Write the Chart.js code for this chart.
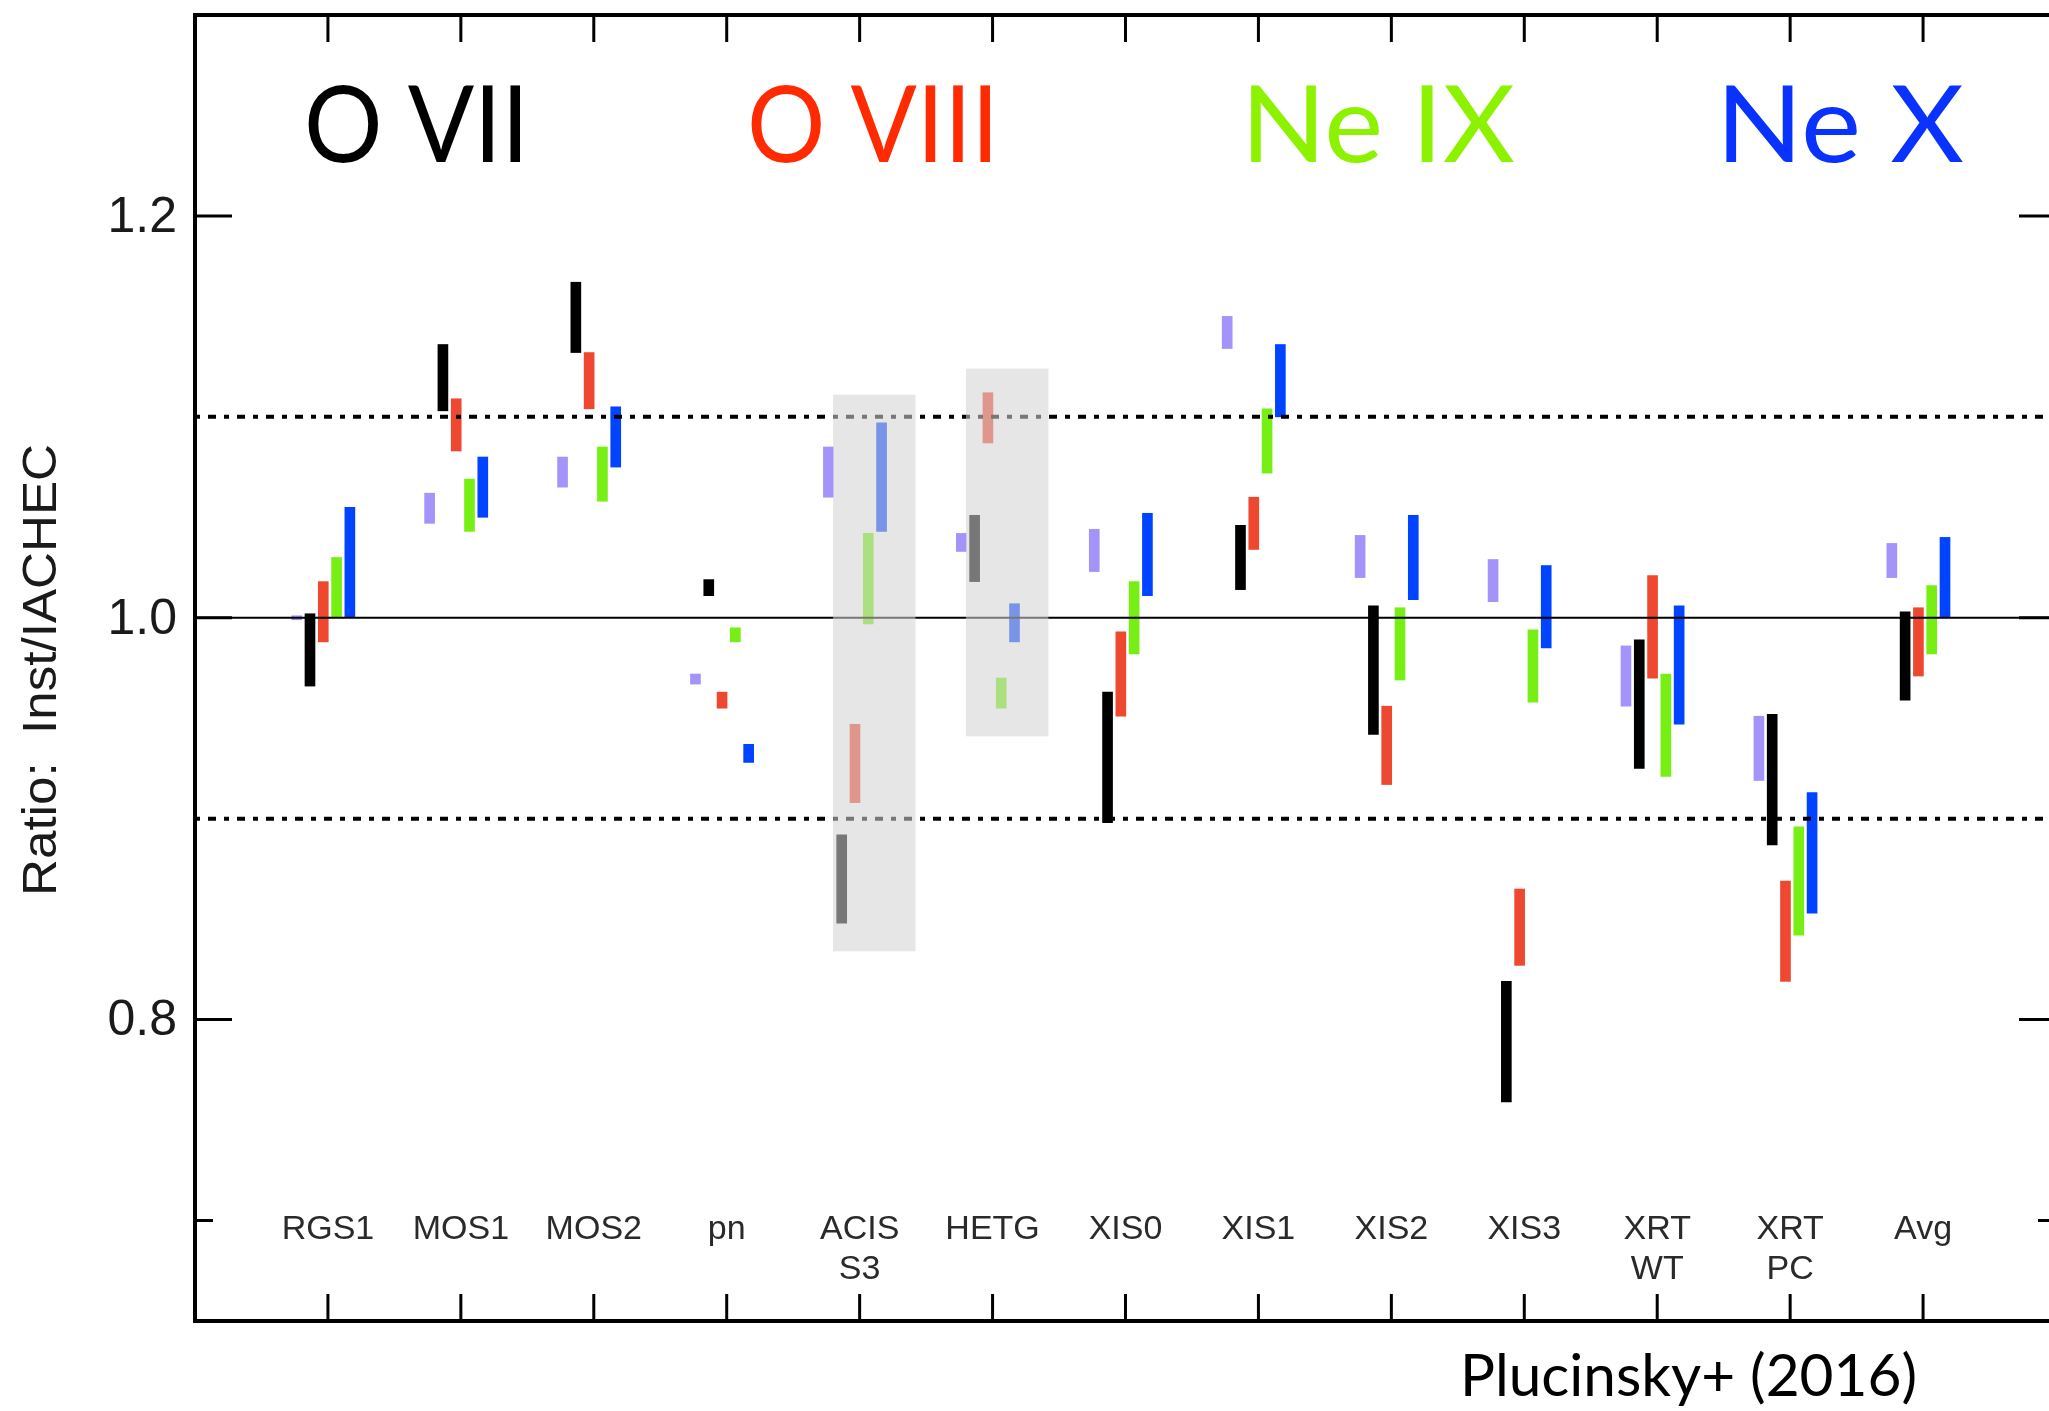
<!DOCTYPE html>
<html>
<head>
<meta charset="utf-8">
<script src="https://cdn.jsdelivr.net/npm/chart.js@4.4.1/dist/chart.umd.min.js"></script>
<style>
  html, body { margin: 0; padding: 0; background: #ffffff; overflow: hidden; }
  #wrap { position: absolute; left: 0; top: 0; width: 2080px; height: 1411px; }
</style>
</head>
<body>
<div id="wrap"><canvas id="ratioChart" width="2080" height="1411"></canvas></div>
<script>
// Instruments along the x axis (multi-line names as arrays)
const categories = ['RGS1', 'MOS1', 'MOS2', 'pn', ['ACIS', 'S3'], 'HETG', 'XIS0', 'XIS1',
                    'XIS2', 'XIS3', ['XRT', 'WT'], ['XRT', 'PC'], 'Avg'];

// Ratio ranges [low, high] per instrument
const lavenderRange = [[0.999, 1.001], [1.047, 1.062], [1.065, 1.080], [0.967, 0.972], [1.060, 1.085],
                       [1.033, 1.042], [1.023, 1.044], [1.134, 1.150], [1.020, 1.041], [1.008, 1.029],
                       [0.956, 0.986], [0.919, 0.951], [1.020, 1.037]];
const oviiRange     = [[0.966, 1.002], [1.103, 1.136], [1.132, 1.167], [1.011, 1.019], [0.848, 0.892],
                       [1.018, 1.051], [0.898, 0.963], [1.014, 1.046], [0.942, 1.006], [0.759, 0.819],
                       [0.925, 0.989], [0.887, 0.952], [0.959, 1.003]];
const oviiiRange    = [[0.988, 1.018], [1.083, 1.109], [1.104, 1.132], [0.955, 0.963], [0.908, 0.947],
                       [1.087, 1.112], [0.951, 0.993], [1.034, 1.060], [0.917, 0.956], [0.827, 0.865],
                       [0.970, 1.021], [0.819, 0.869], [0.971, 1.005]];
const neixRange     = [[1.000, 1.030], [1.043, 1.069], [1.058, 1.085], [0.988, 0.995], [0.997, 1.042],
                       [0.955, 0.970], [0.982, 1.018], [1.072, 1.104], [0.969, 1.005], [0.958, 0.994],
                       [0.921, 0.972], [0.842, 0.896], [0.982, 1.016]];
const nexRange      = [[1.000, 1.055], [1.050, 1.080], [1.075, 1.105], [0.928, 0.937], [1.043, 1.097],
                       [0.988, 1.007], [1.011, 1.052], [1.100, 1.136], [1.009, 1.051], [0.985, 1.026],
                       [0.947, 1.006], [0.853, 0.913], [1.000, 1.040]];

// Line labels written across the top
const lineLabels = ['O VII', 'O VIII', 'Ne IX', 'Ne X'];

// Y axis ticks
const yTickValues = [0.8, 1.0, 1.2];
const yTickLabels = ['0.8', '1.0', '1.2'];
const yMinorTicks = [0.7];

// Reference ratios: solid at unity, dotted at +/-10%
const unityLine = 1.0;
const tenPercentLines = [0.9, 1.1];

// Shaded instruments with their ratio extents
const shadedCategories = [4, 5];
const shadedRanges = [[0.834, 1.111], [0.941, 1.124]];

const yTitle = 'Ratio:  Inst/IACHEC';
const citation = 'Plucinsky+ (2016)';

// ---- styling ----
const seriesStyle = [
  { data: lavenderRange, color: '#a494f9', offset: -0.235 },
  { data: oviiRange,     color: '#000000', offset: -0.135 },
  { data: oviiiRange,    color: '#ee4830', offset: -0.035 },
  { data: neixRange,     color: '#77ee14', offset: 0.065 },
  { data: nexRange,      color: '#0044ff', offset: 0.165 }
];
const labelColors = ['#000000', '#ff2a00', '#8cf200', '#0a32ff'];
const labelLeft = [304, 747, 1241, 1716];
const labelWidth = [225, 252, 274, 248];

const datasets = seriesStyle.map(s => ({
  data: s.data.map((r, i) => ({ x: i + s.offset, y: r })),
  backgroundColor: s.color,
  borderWidth: 0,
  barThickness: 10,
  grouped: false
}));

// draw text stretched or squeezed horizontally to a given width
function fitText(ctx, text, x, y, width) {
  const w = ctx.measureText(text).width;
  ctx.save();
  ctx.translate(x, y);
  ctx.scale(width / w, 1);
  ctx.fillText(text, 0, 0);
  ctx.restore();
}

const overlayPlugin = {
  id: 'frameAndText',
  afterDatasetsDraw(chart) {
    const ctx = chart.ctx;
    const xs = chart.scales.x, ys = chart.scales.y;
    const a = chart.chartArea;
    ctx.save();

    // reference lines
    ctx.strokeStyle = '#000';
    ctx.lineWidth = 2;
    ctx.beginPath();
    const yu = ys.getPixelForValue(unityLine);
    ctx.moveTo(a.left, yu); ctx.lineTo(a.right, yu);
    ctx.stroke();
    ctx.lineWidth = 4;
    ctx.setLineDash([5, 8, 8, 8]);
    tenPercentLines.forEach(v => {
      const yp = ys.getPixelForValue(v);
      ctx.beginPath();
      ctx.moveTo(a.left, yp); ctx.lineTo(a.right, yp);
      ctx.stroke();
    });
    ctx.setLineDash([]);

    // translucent shading over the ACIS / HETG group
    ctx.fillStyle = 'rgba(210,210,210,0.565)';
    shadedCategories.forEach((c, k) => {
      const x0 = xs.getPixelForValue(c - 0.2);
      const x1 = xs.getPixelForValue(c + 0.42);
      const y0 = ys.getPixelForValue(shadedRanges[k][1]);
      const y1 = ys.getPixelForValue(shadedRanges[k][0]);
      ctx.fillRect(x0, y0, x1 - x0, y1 - y0);
    });

    // frame
    ctx.strokeStyle = '#000';
    ctx.lineWidth = 4;
    ctx.strokeRect(a.left, a.top, a.right - a.left, a.bottom - a.top);

    // x ticks (inward, top and bottom)
    ctx.lineWidth = 3;
    categories.forEach((c, i) => {
      const xp = xs.getPixelForValue(i);
      ctx.beginPath();
      ctx.moveTo(xp, a.bottom); ctx.lineTo(xp, a.bottom - 27);
      ctx.moveTo(xp, a.top); ctx.lineTo(xp, a.top + 27);
      ctx.stroke();
    });
    // y ticks (inward, left and right)
    const yTick = (v, len) => {
      const yp = ys.getPixelForValue(v);
      ctx.beginPath();
      ctx.moveTo(a.left, yp); ctx.lineTo(a.left + len, yp);
      ctx.moveTo(a.right, yp); ctx.lineTo(a.right - len, yp);
      ctx.stroke();
    };
    yTickValues.forEach(v => yTick(v, 37));
    yMinorTicks.forEach(v => yTick(v, 18));

    // y tick labels
    ctx.fillStyle = '#1a1a1a';
    ctx.font = '50px "Liberation Sans", Arial, sans-serif';
    ctx.textAlign = 'right';
    ctx.textBaseline = 'middle';
    yTickValues.forEach((v, k) => {
      ctx.fillText(yTickLabels[k], a.left - 18, ys.getPixelForValue(v) + 2);
    });

    // y axis title
    ctx.save();
    ctx.translate(43, 670);
    ctx.rotate(-Math.PI / 2);
    ctx.textAlign = 'left';
    ctx.textBaseline = 'middle';
    ctx.font = '48px "Liberation Sans", Arial, sans-serif';
    fitText(ctx, yTitle, -226, 0, 452);
    ctx.restore();

    // instrument names inside the plot
    ctx.fillStyle = '#2a2a2a';
    ctx.font = '34px "Liberation Sans", Arial, sans-serif';
    ctx.textAlign = 'center';
    ctx.textBaseline = 'middle';
    categories.forEach((c, i) => {
      const xp = xs.getPixelForValue(i);
      const lines = Array.isArray(c) ? c : [c];
      lines.forEach((t, j) => ctx.fillText(t, xp, a.bottom - 91 + j * 40));
    });

    // line labels
    ctx.font = '107px Lato, "Open Sans", sans-serif';
    ctx.textAlign = 'left';
    ctx.textBaseline = 'alphabetic';
    lineLabels.forEach((t, k) => {
      ctx.fillStyle = labelColors[k];
      fitText(ctx, t, labelLeft[k], 162, labelWidth[k]);
    });

    // citation
    ctx.fillStyle = '#000';
    ctx.font = '58px Lato, "Open Sans", sans-serif';
    ctx.textAlign = 'left';
    fitText(ctx, citation, 1460, 1396, 457);

    ctx.restore();
  }
};

new Chart(document.getElementById('ratioChart'), {
  type: 'bar',
  data: { datasets },
  options: {
    responsive: false,
    animation: false,
    devicePixelRatio: 1,
    layout: { padding: { left: 195, top: 15, right: 24, bottom: 90 } },
    plugins: { legend: { display: false }, tooltip: { enabled: false } },
    scales: {
      x: { type: 'linear', min: -1, max: 13, offset: false, display: false },
      y: { type: 'linear', min: 0.65, max: 1.3, display: false }
    }
  },
  plugins: [overlayPlugin]
});
</script>
</body>
</html>
